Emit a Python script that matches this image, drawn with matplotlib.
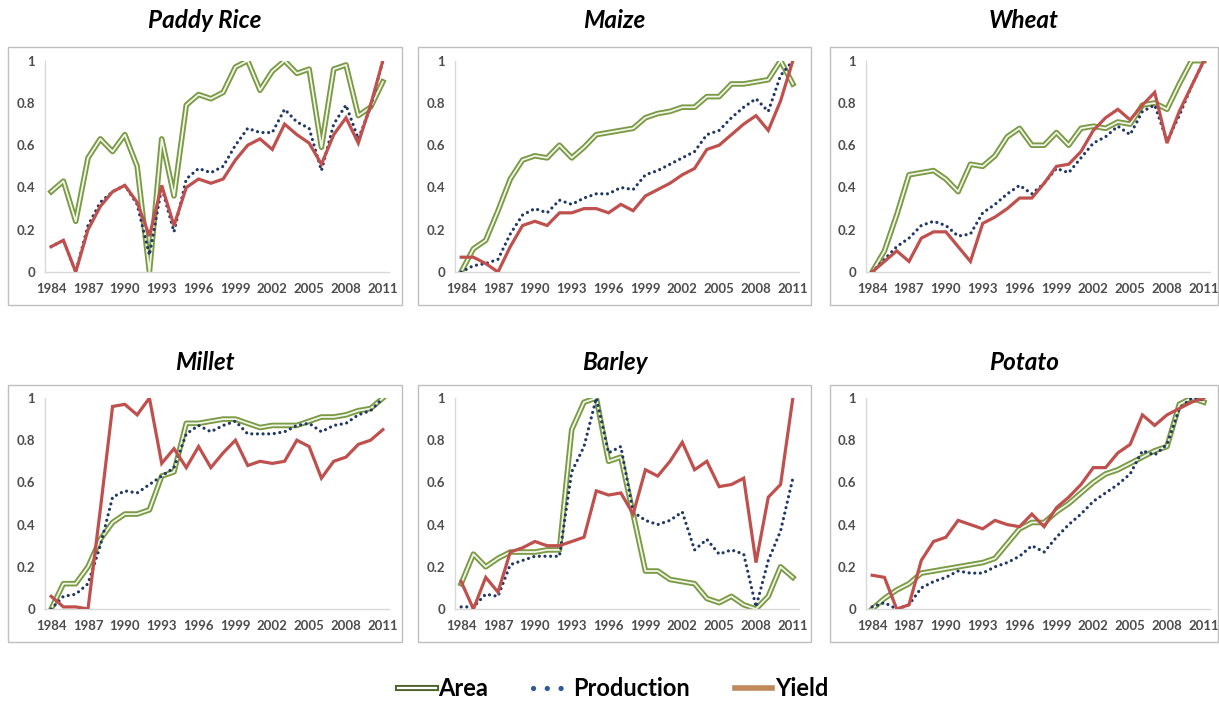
import matplotlib
matplotlib.use("Agg")
import matplotlib.pyplot as plt
import matplotlib.patheffects as pe
from matplotlib.lines import Line2D
from matplotlib.patches import Rectangle

years = list(range(1984, 2012))
tick_years = list(range(1984, 2012, 3))
y_ticks = [0, 0.2, 0.4, 0.6, 0.8, 1]
y_tick_labels = ["0", "0.2", "0.4", "0.6", "0.8", "1"]

crops = ["Paddy Rice", "Maize", "Wheat", "Millet", "Barley", "Potato"]

# normalised area series
area_rice = [0.38, 0.43, 0.24, 0.54, 0.63, 0.57, 0.65, 0.50, 0.00, 0.63, 0.36, 0.79, 0.84, 0.82,
             0.85, 0.97, 1.00, 0.86, 0.95, 1.00, 0.94, 0.96, 0.59, 0.96, 0.98, 0.74, 0.78, 0.90]
area_maize = [0.00, 0.11, 0.15, 0.29, 0.44, 0.53, 0.55, 0.54, 0.60, 0.54, 0.59, 0.65, 0.66, 0.67,
              0.68, 0.73, 0.75, 0.76, 0.78, 0.78, 0.83, 0.83, 0.89, 0.89, 0.90, 0.91, 1.00, 0.89]
area_wheat = [0.00, 0.10, 0.27, 0.46, 0.47, 0.48, 0.44, 0.38, 0.51, 0.50, 0.55, 0.64, 0.68, 0.60,
              0.60, 0.66, 0.60, 0.68, 0.69, 0.68, 0.71, 0.70, 0.79, 0.80, 0.77, 0.89, 1.00, 1.00]
area_millet = [0.00, 0.12, 0.12, 0.20, 0.33, 0.41, 0.45, 0.45, 0.47, 0.63, 0.65, 0.88, 0.88, 0.89,
               0.90, 0.90, 0.88, 0.86, 0.87, 0.87, 0.87, 0.89, 0.91, 0.91, 0.92, 0.94, 0.95, 1.00]
area_barley = [0.12, 0.26, 0.20, 0.24, 0.27, 0.27, 0.27, 0.28, 0.28, 0.85, 0.98, 1.00, 0.70, 0.72,
               0.45, 0.18, 0.18, 0.14, 0.13, 0.12, 0.05, 0.03, 0.06, 0.02, 0.00, 0.06, 0.20, 0.15]
area_potato = [0.00, 0.05, 0.09, 0.12, 0.17, 0.18, 0.19, 0.20, 0.21, 0.22, 0.24, 0.31, 0.38, 0.41,
               0.41, 0.46, 0.50, 0.55, 0.60, 0.64, 0.66, 0.69, 0.72, 0.75, 0.77, 0.97, 1.00, 0.98]

# normalised production series
prod_rice = [0.12, 0.15, 0.00, 0.22, 0.33, 0.38, 0.41, 0.32, 0.08, 0.40, 0.19, 0.44, 0.49, 0.47,
             0.50, 0.60, 0.68, 0.66, 0.66, 0.77, 0.71, 0.68, 0.48, 0.70, 0.79, 0.63, 0.78, 1.00]
prod_maize = [0.00, 0.03, 0.04, 0.06, 0.18, 0.27, 0.30, 0.28, 0.34, 0.32, 0.35, 0.37, 0.37, 0.40,
              0.39, 0.46, 0.48, 0.51, 0.54, 0.57, 0.65, 0.67, 0.73, 0.78, 0.82, 0.76, 0.93, 1.00]
prod_wheat = [0.00, 0.06, 0.12, 0.16, 0.22, 0.24, 0.22, 0.17, 0.18, 0.28, 0.32, 0.37, 0.41, 0.37,
              0.42, 0.49, 0.47, 0.54, 0.61, 0.64, 0.69, 0.65, 0.76, 0.79, 0.62, 0.74, 0.88, 1.00]
prod_millet = [0.00, 0.06, 0.07, 0.12, 0.30, 0.53, 0.56, 0.55, 0.59, 0.63, 0.67, 0.83, 0.87, 0.84,
               0.87, 0.89, 0.83, 0.83, 0.83, 0.84, 0.87, 0.88, 0.84, 0.87, 0.88, 0.92, 0.94, 1.00]
prod_barley = [0.01, 0.01, 0.07, 0.06, 0.21, 0.23, 0.25, 0.25, 0.25, 0.65, 0.77, 1.00, 0.74, 0.77,
               0.46, 0.42, 0.40, 0.42, 0.46, 0.28, 0.33, 0.26, 0.28, 0.26, 0.01, 0.23, 0.37, 0.62]
prod_potato = [0.01, 0.03, 0.00, 0.02, 0.10, 0.13, 0.15, 0.18, 0.17, 0.17, 0.20, 0.22, 0.25, 0.30,
               0.27, 0.34, 0.40, 0.45, 0.51, 0.55, 0.59, 0.64, 0.75, 0.73, 0.78, 0.95, 1.00, 0.99]

# normalised yield series
yield_rice = [0.12, 0.15, 0.00, 0.20, 0.31, 0.38, 0.41, 0.33, 0.17, 0.41, 0.22, 0.40, 0.44, 0.42,
              0.44, 0.53, 0.60, 0.63, 0.58, 0.70, 0.65, 0.61, 0.51, 0.65, 0.73, 0.61, 0.79, 1.00]
yield_maize = [0.07, 0.07, 0.04, 0.00, 0.12, 0.22, 0.24, 0.22, 0.28, 0.28, 0.30, 0.30, 0.28, 0.32,
               0.29, 0.36, 0.39, 0.42, 0.46, 0.49, 0.58, 0.60, 0.65, 0.70, 0.74, 0.67, 0.81, 1.00]
yield_wheat = [0.00, 0.05, 0.10, 0.05, 0.16, 0.19, 0.19, 0.12, 0.05, 0.23, 0.26, 0.30, 0.35, 0.35,
               0.42, 0.50, 0.51, 0.57, 0.67, 0.73, 0.77, 0.72, 0.79, 0.85, 0.61, 0.76, 0.88, 1.00]
yield_millet = [0.06, 0.01, 0.01, 0.00, 0.47, 0.96, 0.97, 0.92, 1.00, 0.69, 0.76, 0.67, 0.77, 0.67,
                0.74, 0.80, 0.68, 0.70, 0.69, 0.70, 0.80, 0.77, 0.62, 0.70, 0.72, 0.78, 0.80, 0.85]
yield_barley = [0.13, 0.00, 0.15, 0.08, 0.27, 0.29, 0.32, 0.30, 0.30, 0.32, 0.34, 0.56, 0.54, 0.55,
                0.45, 0.66, 0.63, 0.70, 0.79, 0.66, 0.70, 0.58, 0.59, 0.62, 0.22, 0.53, 0.59, 1.00]
yield_potato = [0.16, 0.15, 0.00, 0.02, 0.23, 0.32, 0.34, 0.42, 0.40, 0.38, 0.42, 0.40, 0.39, 0.45,
                0.39, 0.48, 0.53, 0.59, 0.67, 0.67, 0.74, 0.78, 0.92, 0.87, 0.92, 0.95, 0.98, 1.00]

area_series = [area_rice, area_maize, area_wheat, area_millet, area_barley, area_potato]
prod_series = [prod_rice, prod_maize, prod_wheat, prod_millet, prod_barley, prod_potato]
yield_series = [yield_rice, yield_maize, yield_wheat, yield_millet, yield_barley, yield_potato]

W, H = 1219, 702
fig = plt.figure(figsize=(W / 100, H / 100), dpi=100)
fig.patch.set_facecolor("white")

GREEN_EDGE = "#7A9A44"
GREEN_FILL = "#F2F6EA"
NAVY = "#1F3864"
RED = "#C0504D"
TICK_GRAY = "#4D4D4D"
FONT = ["Lato", "DejaVu Sans"]


def fx(px):
    return px / W


def fy(py):
    return 1 - py / H


# panel frames (left, right) and axes spans in pixels
frame_x = [(8, 402), (418, 811), (830, 1218)]
frame_y = [(47, 305), (385, 642)]
axes_x = [(45, 389), (455, 799), (866, 1210)]
axes_y = [(60.7, 272), (398, 609)]
title_y = [20, 362]

area_effects = [pe.Stroke(linewidth=4.0, foreground=GREEN_EDGE), pe.Normal()]

for i, crop in enumerate(crops):
    r, c = divmod(i, 3)
    fl, fr = frame_x[c]
    ft, fb = frame_y[r]
    fig.patches.append(Rectangle((fx(fl), fy(fb)), fx(fr - fl), (fb - ft) / H,
                                 transform=fig.transFigure, fill=False,
                                 edgecolor="#BFBFBF", linewidth=1.0))
    fig.text(fx((fl + fr) / 2), fy(title_y[r]), crop, ha="center", va="center",
             fontsize=17.5, fontweight="bold", fontstyle="italic", family=FONT, color="black")

    al, ar = axes_x[c]
    at, ab = axes_y[r]
    ax = fig.add_axes([fx(al), fy(ab), fx(ar - al), (ab - at) / H])
    ax.plot(years, area_series[i], color=GREEN_FILL, linewidth=1.3,
            path_effects=area_effects, zorder=2)
    ax.plot(years, prod_series[i], color=NAVY, linewidth=2.3,
            linestyle=(0, (0.01, 1.75)), dash_capstyle="round", zorder=3)
    ax.plot(years, yield_series[i], color=RED, linewidth=2.3,
            solid_joinstyle="miter", zorder=4)

    ax.set_xlim(1983.5, 2011.5)
    ax.set_ylim(0, 1)
    ax.set_xticks(tick_years)
    ax.set_xticklabels([str(y) for y in tick_years])
    ax.set_yticks(y_ticks)
    ax.set_yticklabels(y_tick_labels)
    ax.tick_params(length=0, labelsize=9.5, labelcolor=TICK_GRAY)
    ax.tick_params(axis="x", pad=8)
    ax.tick_params(axis="y", pad=7)
    for lab in ax.get_xticklabels() + ax.get_yticklabels():
        lab.set_fontweight("bold")
        lab.set_family(FONT)
    for side in ("top", "right"):
        ax.spines[side].set_visible(False)
    ax.spines["left"].set_color("#D9D9D9")
    ax.spines["bottom"].set_color("#D9D9D9")
    ax.spines["left"].set_linewidth(1.0)
    ax.spines["bottom"].set_linewidth(1.0)
    ax.set_facecolor("none")

handles = [
    Line2D([], [], color="white", linewidth=1.6,
           path_effects=[pe.Stroke(linewidth=4.4, foreground="#4F6228"), pe.Normal()]),
    Line2D([], [], color="#2E5C9A", linewidth=3.8, linestyle=(0, (0.01, 2.6)),
           dash_capstyle="round"),
    Line2D([], [], color="#C0895B", linewidth=4.0),
]
fig.legend(handles, ["Area", "Production", "Yield"], loc="center",
           bbox_to_anchor=(fx(613), fy(689)), ncol=3, frameon=False,
           handlelength=1.6, handletextpad=0.1, columnspacing=1.9,
           prop={"family": FONT, "weight": "bold", "size": 17})

fig.savefig("out.png", dpi=100, facecolor="white")
